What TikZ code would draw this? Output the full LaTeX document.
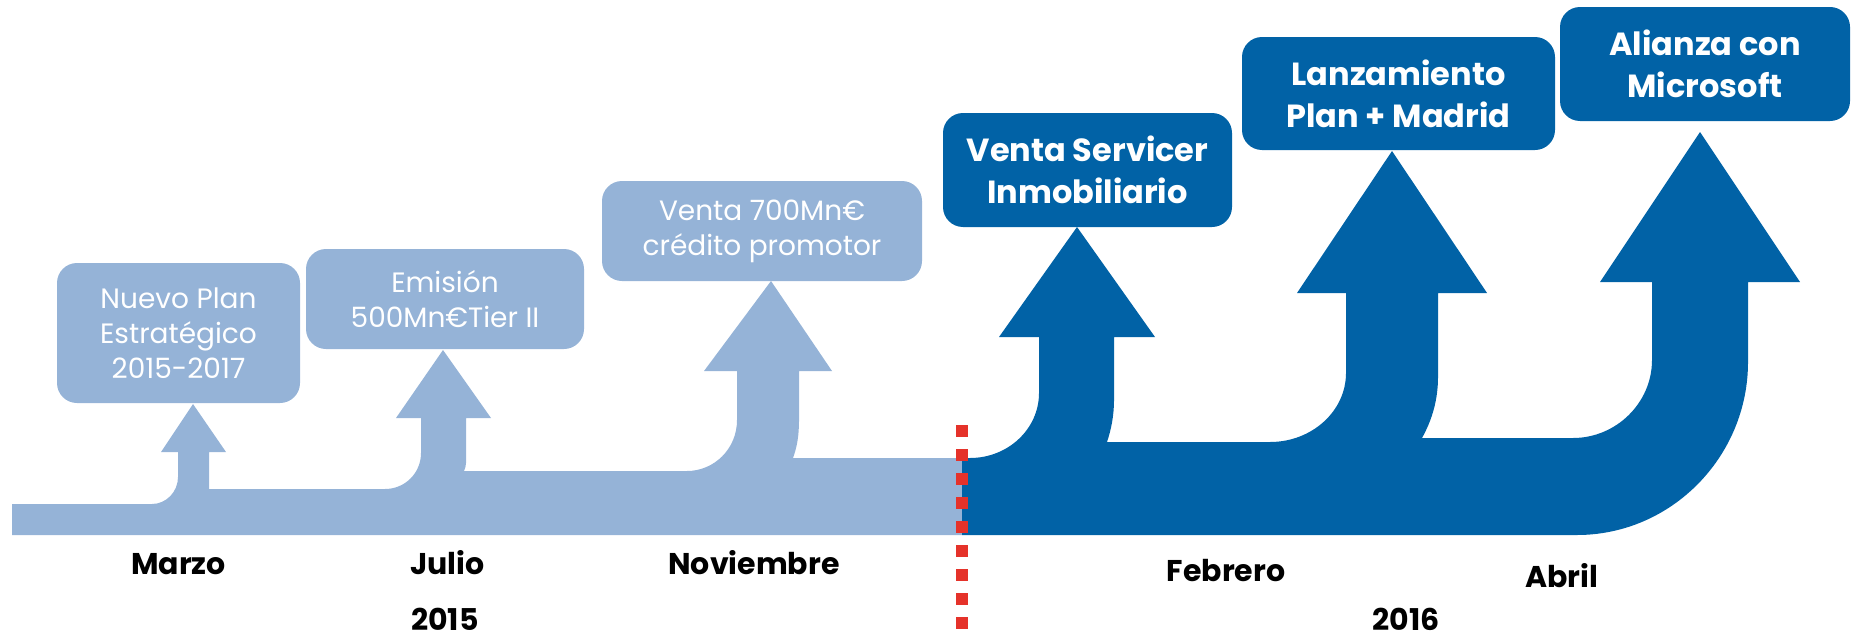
\documentclass[tikz,border=0pt]{standalone}
\usepackage{fontspec}
\setmainfont{Poppins}
\definecolor{lightblue}{RGB}{149,179,215}
\definecolor{darkblue}{RGB}{1,98,166}
\definecolor{reddot}{RGB}{229,50,42}
\begin{document}
\begin{tikzpicture}[x=1pt,y=1pt,yscale=-1,xscale=1,
  lightbox/.style={fill=lightblue, rounded corners=20pt, text=white, align=center, inner sep=0pt, font=\fontsize{28}{35}\selectfont},
  darkbox/.style={fill=darkblue, rounded corners=20pt, text=white, align=center, inner sep=0pt, font=\bfseries\fontsize{32}{42}\selectfont},
  month/.style={anchor=base, inner sep=0.75pt, font=\bfseries\fontsize{30}{36}\selectfont}]
\useasboundingbox (0,0) rectangle (1851,637); %set diagram to the size of the reference

%Shape: Light band with arrows 2015
\fill [lightblue] (12,535) -- (12,504) -- (152,504) .. controls (166,504) and (178,492) .. (178,477) -- (178,452) -- (161,452) -- (193,404) -- (226,452) -- (209,452) -- (209,489) -- (385,489) .. controls (405,489) and (421,473) .. (421,453) -- (421,418) -- (396,418) -- (443,350) -- (491,418) -- (466,418) -- (466,463) .. controls (466,466) and (465,469) .. (464,471) -- (687,471) .. controls (714,471) and (737,449) .. (737,420) -- (737,371) -- (704,371) -- (771,281) -- (832,371) -- (799,371) -- (799,420) .. controls (799,436) and (797,447) .. (793,458) -- (962,458) -- (962,535) -- cycle ;
%Shape: Dark band with arrows 2016
\fill [darkblue] (962,535) -- (962,458) -- (970,458) .. controls (1008,458) and (1039,429) .. (1039,393) -- (1039,337) -- (999,337) -- (1077,227) -- (1155,337) -- (1114,337) -- (1114,400) .. controls (1114,416) and (1111,430) .. (1107,442) -- (1270,442) .. controls (1312,442) and (1346,411) .. (1346,373) -- (1346,293) -- (1297,293) -- (1392,151) -- (1487,293) -- (1438,293) -- (1438,377) .. controls (1438,400) and (1432,420) .. (1422,438) -- (1573,438) .. controls (1616,438) and (1652,403) .. (1652,360) -- (1652,282) -- (1600,282) -- (1700,132) -- (1800,282) -- (1748,282) -- (1748,362) .. controls (1748,457) and (1671,535) .. (1577,535) -- cycle ;
%Dotted Lines: year change
\foreach \k in {0,...,8}
  \fill [reddot] (956,425+24*\k) rectangle ++(12,12) ;

% Text Node
\draw (178.5,333) node [lightbox, minimum width=243pt, minimum height=140pt] (plan) {Nuevo Plan\\Estratégico\\2015-2017};
% Text Node
\draw (445,299) node [lightbox, minimum width=278pt, minimum height=100pt] (emision) {Emisión\\500Mn€Tier II};
% Text Node
\draw (762,231) node [lightbox, minimum width=320pt, minimum height=100pt] (credito) {Venta 700Mn€\\crédito promotor};
% Text Node
\draw (1087.5,170) node [darkbox, minimum width=289pt, minimum height=114pt] (servicer) {Venta Servicer\\Inmobiliario};
% Text Node
\draw (1398.5,93.5) node [darkbox, minimum width=313pt, minimum height=113pt] (madrid) {Lanzamiento\\Plan + Madrid};
% Text Node
\draw (1705,64) node [darkbox, minimum width=290pt, minimum height=114pt] (microsoft) {Alianza con\\Microsoft};

% Text Node
\draw (178.5,574) node [month] (marzo) {Marzo};
% Text Node
\draw (447.5,574) node [month] (julio) {Julio};
% Text Node
\draw (754,574) node [month] (noviembre) {Noviembre};
% Text Node
\draw (445,630) node [month] (y2015) {2015};
% Text Node
\draw (1226,581) node [month] (febrero) {Febrero};
% Text Node
\draw (1562,587) node [month] (abril) {Abril};
% Text Node
\draw (1406,630) node [month] (y2016) {2016};

\end{tikzpicture}
\end{document}
